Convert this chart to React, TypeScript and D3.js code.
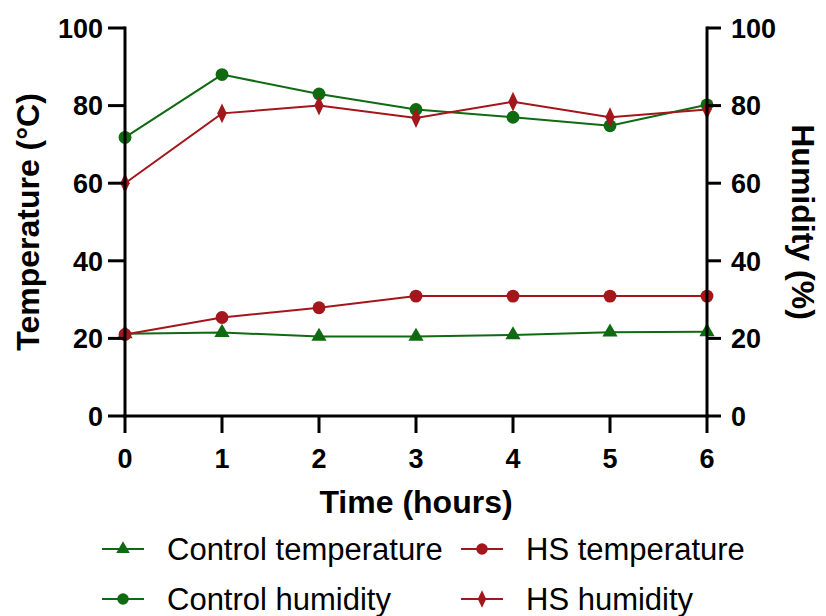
import React from 'react';
import * as d3 from 'd3';

const hours = [0, 1, 2, 3, 4, 5, 6];
const controlTemp = [21.2, 21.5, 20.5, 20.5, 20.9, 21.6, 21.7];
const hsTemp = [21, 25.4, 27.9, 30.9, 30.9, 30.9, 30.9];
const controlHum = [71.8, 88, 83, 79, 77, 74.8, 80.2];
const hsHum = [60, 78, 80, 76.8, 81, 77, 79];
const yTicks = [0, 20, 40, 60, 80, 100];

const GREEN = '#0f6a12';
const RED = '#a3161b';
const FONT = '"Liberation Sans", Arial, sans-serif';

const margin = { top: 28, right: 119, bottom: 200, left: 125 };
const W = 826;
const H = 616;

const Marker = ({ kind, x, y, color, scale = 1 }: { kind: string; x: number; y: number; color: string; scale?: number }) => {
  const sym = kind === 'triangle' ? d3.symbolTriangle : kind === 'diamond' ? d3.symbolDiamond : d3.symbolCircle;
  const size = (kind === 'circle' ? 130 : kind === 'triangle' ? 100 : 85) * scale;
  const d = d3.symbol().type(sym).size(size)() as string;
  const transform = kind === 'diamond' ? `translate(${x},${y}) scale(0.95,1.15)` : `translate(${x},${y})`;
  return <path d={d} transform={transform} fill={color} />;
};

const App = () => {
  const x = d3.scaleLinear().domain([0, 6]).range([margin.left, W - margin.right]);
  const y = d3.scaleLinear().domain([0, 100]).range([H - margin.bottom, margin.top]);
  const y0 = y(0);
  const line = d3.line<number>().x((_, i) => x(hours[i])).y(v => y(v));

  // green first so the red series sit on top, as in the original
  const series = [
    { name: 'Control humidity', values: controlHum, color: GREEN, marker: 'circle' },
    { name: 'Control temperature', values: controlTemp, color: GREEN, marker: 'triangle' },
    { name: 'HS humidity', values: hsHum, color: RED, marker: 'diamond' },
    { name: 'HS temperature', values: hsTemp, color: RED, marker: 'circle' },
  ];

  const legend = [
    { name: 'Control temperature', color: GREEN, marker: 'triangle', lx: 102, ly: 549 },
    { name: 'HS temperature', color: RED, marker: 'circle', lx: 461, ly: 549 },
    { name: 'Control humidity', color: GREEN, marker: 'circle', lx: 102, ly: 599 },
    { name: 'HS humidity', color: RED, marker: 'diamond', lx: 461, ly: 599 },
  ];

  const xL = x(0);
  const xR = x(6);
  const midY = (y(100) + y0) / 2;

  return (
    <svg width={W} height={H} style={{ position: 'absolute', left: 0, top: 0, background: '#fff' }}>
      {series.map(s => (
        <path key={s.name} d={line(s.values) as string} fill="none" stroke={s.color} strokeWidth={2} />
      ))}
      {series.map(s =>
        s.values.map((v, i) => (
          <Marker key={s.name + i} kind={s.marker} x={x(hours[i])} y={y(v)} color={s.color} />
        ))
      )}

      {/* axes */}
      <g stroke="#000" strokeWidth={3} fill="none">
        <line x1={xL} x2={xL} y1={y(100) - 1.5} y2={y0 + 1.5} />
        <line x1={xR} x2={xR} y1={y(100) - 1.5} y2={y0 + 1.5} />
        <line x1={xL - 1.5} x2={xR + 1.5} y1={y0} y2={y0} />
        {yTicks.map(t => (
          <g key={t}>
            <line x1={xL - 17} x2={xL} y1={y(t)} y2={y(t)} />
            <line x1={xR} x2={xR + 14} y1={y(t)} y2={y(t)} />
          </g>
        ))}
        {hours.map(h => (
          <line key={h} x1={x(h)} x2={x(h)} y1={y0} y2={y0 + 17} />
        ))}
      </g>

      <g fontFamily={FONT} fontWeight="bold" fontSize={27} fill="#000">
        {yTicks.map(t => (
          <text key={'l' + t} x={xL - 22} y={y(t)} dy="0.36em" textAnchor="end">{t}</text>
        ))}
        {yTicks.map(t => (
          <text key={'r' + t} x={xR + 24} y={y(t)} dy="0.36em" textAnchor="start">{t}</text>
        ))}
        {hours.map(h => (
          <text key={'x' + h} x={x(h)} y={468} textAnchor="middle">{h}</text>
        ))}
        <text x={x(3)} y={513} textAnchor="middle" fontSize={32}>Time (hours)</text>
        <text transform={`translate(39,${midY}) rotate(-90)`} textAnchor="middle" fontSize={32}>Temperature (°C)</text>
        <text transform={`translate(792,${midY}) rotate(90)`} textAnchor="middle" fontSize={32}>Humidity (%)</text>
      </g>

      {/* legend */}
      {legend.map(l => (
        <g key={l.name}>
          <line x1={l.lx} x2={l.lx + 42} y1={l.ly} y2={l.ly} stroke={l.color} strokeWidth={2} />
          <Marker kind={l.marker} x={l.lx + 21} y={l.ly} color={l.color} scale={0.8} />
          <text x={l.lx + 65} y={l.ly} dy="0.35em" fontFamily={FONT} fontSize={31} fill="#000">{l.name}</text>
        </g>
      ))}
    </svg>
  );
};

export default App;
